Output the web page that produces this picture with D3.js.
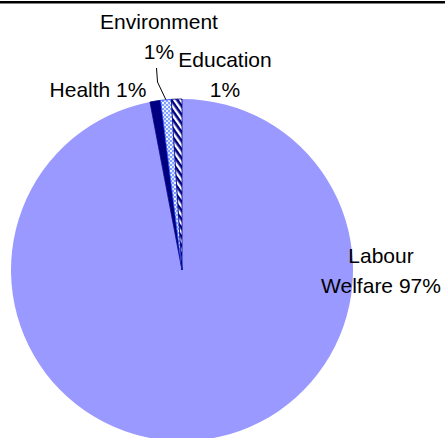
<!DOCTYPE html>
<html>
<head>
<meta charset="utf-8">
<script src="https://cdn.jsdelivr.net/npm/d3@7/dist/d3.min.js"></script>
<style>
  html, body { margin: 0; padding: 0; background: #fff; }
  svg { display: block; }
</style>
</head>
<body>
<script>
// Spending shares by sector
const categories = ["Labour Welfare", "Health", "Environment", "Education"];
const values = [97, 1, 1, 1];
const labelLines = [
  ["Labour", "Welfare 97%"],
  ["Health 1%"],
  ["Environment", "1%"],
  ["Education", "1%"]
];

const W = 445, H = 438;
const cx = 182, cy = 270, R = 171;

const svg = d3.select("body").append("svg")
  .attr("width", W).attr("height", H)
  .style("font-family", "'Liberation Sans', Arial, sans-serif");

// fill patterns
const defs = svg.append("defs");
const dots = defs.append("pattern")
  .attr("id", "dots").attr("patternUnits", "userSpaceOnUse")
  .attr("width", 4).attr("height", 4);
dots.append("rect").attr("width", 4).attr("height", 4).attr("fill", "#7f9fff");
dots.append("circle").attr("cx", 1).attr("cy", 1).attr("r", 1.1).attr("fill", "#ffffff");
dots.append("circle").attr("cx", 3).attr("cy", 3).attr("r", 1.1).attr("fill", "#e6ecff");

const hatch = defs.append("pattern")
  .attr("id", "hatch").attr("patternUnits", "userSpaceOnUse")
  .attr("width", 5).attr("height", 5)
  .attr("patternTransform", "rotate(-35)");
hatch.append("rect").attr("width", 5).attr("height", 5).attr("fill", "#000080");
hatch.append("rect").attr("x", 0).attr("width", 2.4).attr("height", 5).attr("fill", "#ffffff");

const fills = d3.scaleOrdinal()
  .domain(categories)
  .range(["#9999ff", "#000080", "url(#dots)", "url(#hatch)"]);
const strokes = d3.scaleOrdinal()
  .domain(categories)
  .range(["none", "#000080", "#2a4dff", "#000080"]);

// title rule across the top
svg.append("rect").attr("x", 0).attr("y", 1).attr("width", W).attr("height", 2.5).attr("fill", "#000");

const pie = d3.pie().sort(null).value(d => d.v);
const arcs = pie(categories.map((c, i) => ({ c, v: values[i] })));
const arc = d3.arc().innerRadius(0).outerRadius(R);

const g = svg.append("g").attr("transform", `translate(${cx},${cy})`);
g.selectAll("path").data(arcs).join("path")
  .attr("d", arc)
  .attr("fill", d => fills(d.data.c))
  .attr("stroke", d => strokes(d.data.c))
  .attr("stroke-width", 0.8)
  .attr("stroke-linejoin", "round");

// label placement (anchor x, first baseline y)
const labelPos = {
  "Labour Welfare": [381, 263],
  "Health": [98, 97],
  "Environment": [159, 29],
  "Education": [225, 67]
};
const fontSize = 21, lineGap = 30;

categories.forEach((c, i) => {
  const [x, y] = labelPos[c];
  const t = svg.append("text")
    .attr("text-anchor", "middle")
    .attr("font-size", fontSize)
    .attr("fill", "#000");
  labelLines[i].forEach((line, k) => {
    t.append("tspan").attr("x", x).attr("y", y + k * lineGap).text(line);
  });
});

// leader from the Environment label to its slice
const envMid = arcs[2];
const midA = (envMid.startAngle + envMid.endAngle) / 2;
const tipX = cx + Math.sin(midA) * R, tipY = cy - Math.cos(midA) * R;
svg.append("path")
  .attr("d", d3.line()([[156.5, 68], [157.5, 82], [tipX, tipY]]))
  .attr("fill", "none").attr("stroke", "#000").attr("stroke-width", 1);
</script>
</body>
</html>
